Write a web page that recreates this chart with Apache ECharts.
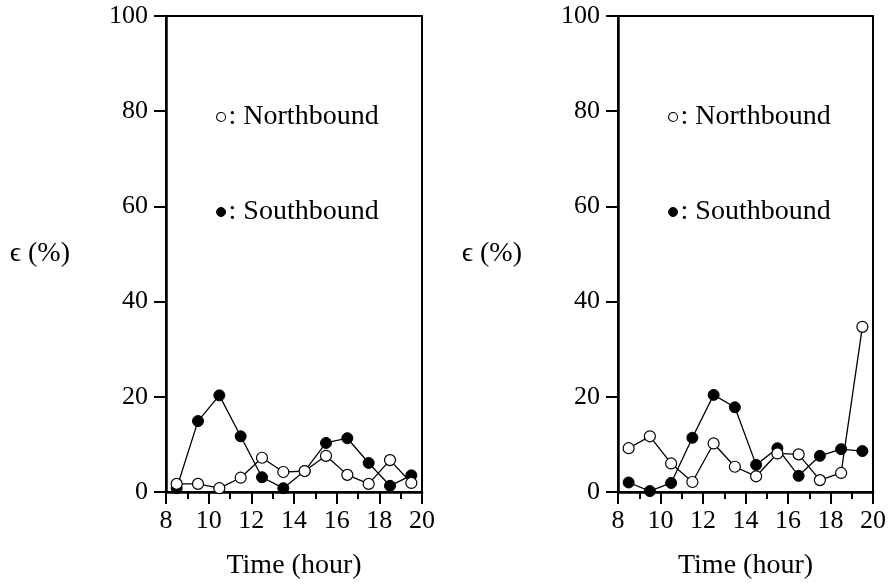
<!DOCTYPE html>
<html>
<head>
<meta charset="utf-8">
<script src="https://cdn.jsdelivr.net/npm/echarts@6/dist/echarts.min.js"></script>
<style>
html,body{margin:0;padding:0;background:#fff;}
#chart{width:890px;height:585px;}
</style>
</head>
<body>
<div id="chart"></div>
<script>
// ---- data ----
var hours = [8.5, 9.5, 10.5, 11.5, 12.5, 13.5, 14.5, 15.5, 16.5, 17.5, 18.5, 19.5];
var leftNorth  = [1.7, 1.7, 0.8, 3.0, 7.2, 4.2, 4.4, 7.6, 3.6, 1.7, 6.7, 1.9];
var leftSouth  = [0.8, 14.9, 20.3, 11.7, 3.1, 0.8, 4.4, 10.3, 11.3, 6.1, 1.3, 3.5];
var rightNorth = [9.2, 11.7, 6.0, 2.1, 10.2, 5.3, 3.3, 8.1, 7.9, 2.5, 4.0, 34.7];
var rightSouth = [2.0, 0.2, 1.9, 11.4, 20.4, 17.8, 5.7, 9.2, 3.4, 7.6, 9.0, 8.6];
var xTicks = [8, 10, 12, 14, 16, 18, 20];
var yTicks = [0, 20, 40, 60, 80, 100];
var yName = 'ϵ (%)';
var xName = 'Time (hour)';
var names = ['Northbound', 'Southbound'];

var FONT = '"Liberation Serif", "Times New Roman", serif';
var FS = 26;   // tick labels
var FT = 28;   // words

function pairs(v) { return hours.map(function (h, i) { return [h, v[i]]; }); }

function xAxis(idx) {
  return {
    gridIndex: idx, type: 'value',
    min: xTicks[0], max: xTicks[xTicks.length - 1], interval: xTicks[1] - xTicks[0],
    name: xName, nameLocation: 'middle', nameGap: 60,
    nameTextStyle: { fontFamily: FONT, fontSize: FT, color: '#000' },
    axisLine: { show: true, onZero: false, lineStyle: { color: '#000', width: 2.5 } },
    axisTick: { show: true, inside: false, length: 12, lineStyle: { color: '#000', width: 2 } },
    minorTick: { show: true, splitNumber: 2, length: 7, lineStyle: { color: '#000', width: 2 } },
    axisLabel: { fontFamily: FONT, fontSize: FS, color: '#000', margin: 16 },
    splitLine: { show: false }, minorSplitLine: { show: false }
  };
}
function yAxis(idx) {
  return {
    gridIndex: idx, type: 'value',
    min: yTicks[0], max: yTicks[yTicks.length - 1], interval: yTicks[1] - yTicks[0],
    name: yName, nameLocation: 'middle', nameRotate: 0, nameGap: 96,
    nameTextStyle: { fontFamily: FONT, fontSize: FT, color: '#000' },
    axisLine: { show: true, onZero: false, lineStyle: { color: '#000', width: 2.5 } },
    axisTick: { show: true, inside: false, length: 12, lineStyle: { color: '#000', width: 2 } },
    axisLabel: { fontFamily: FONT, fontSize: FS, color: '#000', margin: 18 },
    splitLine: { show: false }
  };
}
function series(name, vals, idx, open) {
  return {
    name: name, type: 'line', xAxisIndex: idx, yAxisIndex: idx,
    data: pairs(vals),
    symbol: 'circle', symbolSize: 11, showSymbol: true,
    lineStyle: { color: '#000', width: 1.3 },
    itemStyle: open ? { color: '#fff', borderColor: '#000', borderWidth: 1.2 }
                    : { color: '#000', borderColor: '#000', borderWidth: 1 },
    emphasis: { disabled: true },
    animation: false, z: open ? 3 : 2
  };
}
function legend(left) {
  return {
    left: left, top: 98, orient: 'vertical', itemGap: 67,
    itemWidth: 9, itemHeight: 9, selectedMode: false,
    formatter: function (n) { return ': ' + n; },
    textStyle: { fontFamily: FONT, fontSize: FT, color: '#000', padding: [0, 0, 0, -2] },
    data: [
      { name: names[0], icon: 'circle', itemStyle: { color: '#fff', borderColor: '#000', borderWidth: 1.1 } },
      { name: names[1], icon: 'circle', itemStyle: { color: '#000', borderColor: '#000', borderWidth: 1 } }
    ]
  };
}

var chart = echarts.init(document.getElementById('chart'), null, { renderer: 'canvas' });
chart.setOption({
  backgroundColor: '#fff',
  animation: false,
  grid: [
    { left: 166, right: 468, top: 16, bottom: 92, show: true, borderColor: '#000', borderWidth: 2, backgroundColor: 'transparent' },
    { left: 618, right: 17, top: 16, bottom: 92, show: true, borderColor: '#000', borderWidth: 2, backgroundColor: 'transparent' }
  ],
  legend: [legend(211), legend(663)],
  xAxis: [xAxis(0), xAxis(1)],
  yAxis: [yAxis(0), yAxis(1)],
  series: [
    series(names[0], leftNorth, 0, true),
    series(names[1], leftSouth, 0, false),
    series(names[0], rightNorth, 1, true),
    series(names[1], rightSouth, 1, false)
  ]
});
</script>
</body>
</html>
